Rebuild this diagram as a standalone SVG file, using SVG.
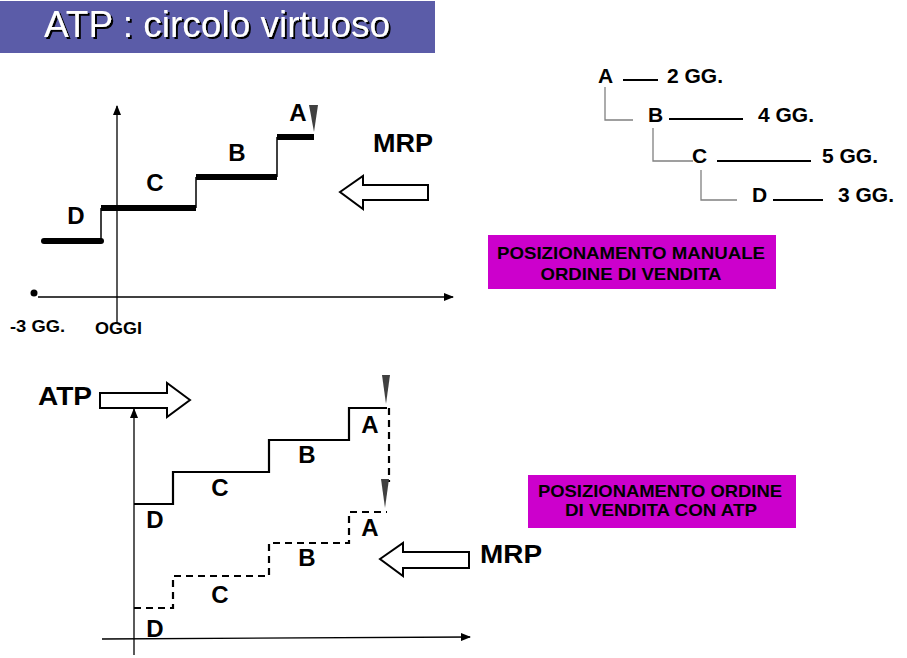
<svg xmlns="http://www.w3.org/2000/svg" width="907" height="658" viewBox="0 0 907 658">
<style>
text{font-family:"Liberation Sans",Arial,sans-serif;font-weight:bold;fill:#000}
.t{font-weight:normal;font-size:37px;fill:#fff}
.lbl{font-size:24px;text-anchor:middle}
.big{font-size:25px}
.tr{font-size:21px}
.ax-t{font-size:16px}
.box{font-size:17px;text-anchor:middle}
.ax{stroke:#000;stroke-width:1.3;fill:none}
.thick{stroke:#000;stroke-width:6;fill:none}
.thin{stroke:#000;stroke-width:1.5;fill:none}
.st{stroke:#000;stroke-width:2.2;fill:none}
.dash{stroke:#000;stroke-width:2.2;fill:none;stroke-dasharray:7,5}
.grey{stroke:#808080;stroke-width:1.3;fill:none}
.hollow{fill:#fff;stroke:#000;stroke-width:2}
.tri{fill:#404040}
</style>
<defs>
<marker id="ah" markerWidth="10" markerHeight="8" refX="9" refY="4" orient="auto" markerUnits="userSpaceOnUse">
<path d="M0,0 L10,4 L0,8 Z" fill="#000"/>
</marker>
<filter id="sh" x="-5%" y="-20%" width="110%" height="150%">
<feDropShadow dx="2" dy="2" stdDeviation="0.3" flood-color="#000" flood-opacity="1"/>
</filter>
</defs>
<rect width="907" height="658" fill="#fff"/>
<g id="title">
<rect x="0" y="1" width="435" height="52" fill="#5b5ca8"/>
<text class="t" x="217" y="37" text-anchor="middle" filter="url(#sh)">ATP : circolo virtuoso</text>
</g>
<g id="top-chart">
<line class="ax" x1="117" y1="323" x2="117" y2="106" marker-end="url(#ah)"/>
<line class="ax" x1="38" y1="297" x2="453" y2="297" marker-end="url(#ah)"/>
<circle cx="34" cy="293" r="3.5" fill="#000"/>
<text class="ax-t" x="10" y="332" textLength="55" lengthAdjust="spacingAndGlyphs">-3 GG.</text>
<text class="ax-t" x="95" y="334" textLength="47" lengthAdjust="spacingAndGlyphs">OGGI</text>
<path class="thick" d="M44,241 H101" stroke-linecap="round"/>
<path class="thin" d="M101,241 V208"/>
<path class="thick" d="M101,208 H196"/>
<path class="thin" d="M196,208 V177"/>
<path class="thick" d="M196,177 H277"/>
<path class="thin" d="M277,177 V137"/>
<path class="thick" d="M277,137 H314"/>
<path class="tri" d="M309,105 L318,105 L314,132 Z"/>
<text class="lbl" x="76" y="224">D</text>
<text class="lbl" x="155" y="191">C</text>
<text class="lbl" x="237" y="161">B</text>
<text class="lbl" x="298" y="121">A</text>
</g>
<g id="mrp-top">
<text class="big" x="373" y="152" textLength="60" lengthAdjust="spacingAndGlyphs">MRP</text>
<path class="hollow" d="M340,192 L363,176 L363,185 L428,185 L428,200 L363,200 L363,209 Z"/>
</g>
<g id="tree">
<text class="tr" x="598" y="83">A</text>
<line class="st" x1="623" y1="80" x2="658" y2="80"/>
<text class="tr" x="667" y="83">2 GG.</text>
<text class="tr" x="648" y="122">B</text>
<line class="st" x1="669" y1="119" x2="743" y2="119"/>
<text class="tr" x="758" y="122">4 GG.</text>
<text class="tr" x="692" y="163">C</text>
<line class="st" x1="717" y1="161" x2="811" y2="161"/>
<text class="tr" x="822" y="163">5 GG.</text>
<text class="tr" x="752" y="202">D</text>
<line class="st" x1="773" y1="200" x2="823" y2="200"/>
<text class="tr" x="838" y="202">3 GG.</text>
</g>
<g id="tree-links">
<path class="grey" d="M605,87 V120 H633"/>
<path class="grey" d="M653,128 V161 H693"/>
<path class="grey" d="M701,170 V200 H737"/>
</g>
<g id="box-manuale">
<rect x="488" y="235" width="288" height="54" fill="#cc00cc"/>
<text class="box" x="631" y="259" textLength="268" lengthAdjust="spacingAndGlyphs">POSIZIONAMENTO MANUALE</text>
<text class="box" x="631" y="280" textLength="181" lengthAdjust="spacingAndGlyphs">ORDINE DI VENDITA</text>
</g>
<g id="box-atp">
<rect x="528" y="475" width="268" height="53" fill="#cc00cc"/>
<text class="box" x="660" y="497" textLength="244" lengthAdjust="spacingAndGlyphs">POSIZIONAMENTO ORDINE</text>
<text class="box" x="661" y="516" textLength="192" lengthAdjust="spacingAndGlyphs">DI VENDITA CON ATP</text>
</g>
<g id="bottom-chart">
<line class="ax" x1="134" y1="655" x2="134" y2="409" marker-end="url(#ah)"/>
<line class="ax" x1="102" y1="639" x2="470" y2="637" marker-end="url(#ah)"/>
<path class="st" d="M134,504 H173 V472 H269 V440 H349 V408 H387"/>
<path class="dash" d="M134,608 H173 V576 H269 V543 H349 V512 H387"/>
<path class="dash" d="M389,408 V482"/>
<path class="tri" d="M382,375 L390,375 L386,404 Z"/>
<path class="tri" d="M381,479 L389,479 L385,508 Z"/>
<text class="lbl" x="155" y="528">D</text>
<text class="lbl" x="220" y="496">C</text>
<text class="lbl" x="307" y="463">B</text>
<text class="lbl" x="370" y="433">A</text>
<text class="lbl" x="155" y="637">D</text>
<text class="lbl" x="220" y="603">C</text>
<text class="lbl" x="307" y="566">B</text>
<text class="lbl" x="370" y="536">A</text>
</g>
<g id="atp-arrow">
<text class="big" x="38" y="405" textLength="54" lengthAdjust="spacingAndGlyphs">ATP</text>
<path class="hollow" d="M190,400 L167,383 L167,393 L100,393 L100,408 L167,408 L167,417 Z"/>
</g>
<g id="mrp-bottom">
<path class="hollow" d="M380,559 L403,543 L403,552 L469,552 L469,568 L403,568 L403,576 Z"/>
<text class="big" x="480" y="563" textLength="62" lengthAdjust="spacingAndGlyphs">MRP</text>
</g>
</svg>
